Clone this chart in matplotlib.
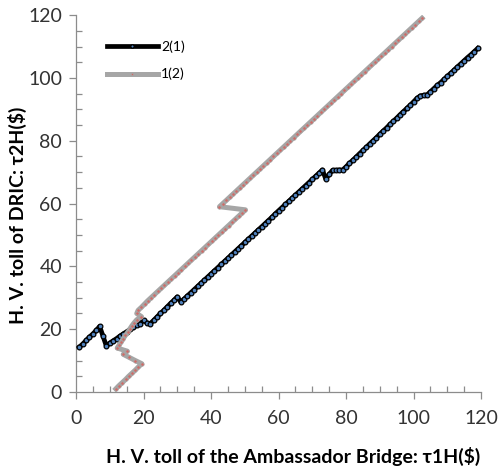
import numpy as np
import matplotlib
matplotlib.use('Agg')
import matplotlib.pyplot as plt
from matplotlib.ticker import MultipleLocator

plt.rcParams['font.family'] = ['Lato', 'DejaVu Sans']

# series 2(1): tau2H response to tau1H = 1..119
tau1_21 = list(range(1, 120))
tau2_21 = [14.3, 15.3, 16.4, 17.5, 18.5, 19.6, 20.9, 17.8, 14.6, 15.6,
           16.3, 17.0, 17.8, 18.5, 19.2, 19.9, 20.6, 21.2, 21.8, 22.8,
           22.0, 21.8, 22.8, 23.9, 25.0, 26.0, 27.1, 28.2, 29.2, 30.3,
           28.7, 29.6, 30.6, 31.6, 32.6, 33.6, 34.6, 35.6, 36.6, 37.6,
           38.6, 39.6, 40.6, 41.6, 42.6, 43.6, 44.6, 45.6, 46.6, 47.6,
           48.6, 49.6, 50.6, 51.6, 52.6, 53.6, 54.6, 55.6, 56.7, 57.7,
           58.7, 59.7, 60.7, 61.7, 62.7, 63.7, 64.7, 65.7, 66.7, 67.7,
           68.7, 69.7, 70.7, 67.8, 69.3, 70.6, 70.6, 70.7, 70.7, 71.7,
           72.8, 73.8, 74.8, 75.9, 76.9, 77.9, 79.0, 80.0, 81.0, 82.1,
           83.1, 84.1, 85.2, 86.2, 87.2, 88.3, 89.3, 90.3, 91.3, 92.4,
           93.5, 94.3, 94.5, 94.6, 95.6, 96.6, 97.6, 98.5, 99.5, 100.5,
           101.5, 102.5, 103.5, 104.5, 105.5, 106.5, 107.4, 108.4, 109.4]

# series 1(2): tau1H response to tau2H = 1..119
tau2_12 = list(range(1, 120))
tau1_12 = [11.8, 12.7, 13.7, 14.7, 15.6, 16.6, 17.6, 18.5, 19.5, 17.6,
           15.8, 14.0, 15.2, 12.2, 12.8, 13.4, 14.0, 14.6, 15.3, 15.9,
           16.5, 17.2, 18.0, 19.4, 18.0, 18.4, 19.4, 20.3, 21.2, 22.2,
           23.2, 24.2, 25.2, 26.2, 27.2, 28.2, 29.2, 30.2, 31.2, 32.2,
           33.2, 34.2, 35.2, 36.2, 37.2, 38.2, 39.2, 40.2, 41.2, 42.2,
           43.2, 44.2, 45.2, 46.2, 47.2, 48.2, 49.2, 50.2, 42.5, 43.5,
           44.5, 45.5, 46.5, 47.5, 48.5, 49.5, 50.5, 51.5, 52.5, 53.5,
           54.5, 55.5, 56.5, 57.5, 58.5, 59.5, 60.5, 61.5, 62.5, 63.5,
           64.5, 65.5, 66.5, 67.5, 68.5, 69.5, 70.5, 71.5, 72.5, 73.5,
           74.5, 75.5, 76.5, 77.5, 78.5, 79.5, 80.5, 81.5, 82.5, 83.5,
           84.5, 85.5, 86.5, 87.5, 88.5, 89.5, 90.5, 91.5, 92.5, 93.5,
           94.5, 95.5, 96.5, 97.5, 98.5, 99.5, 100.5, 101.5, 102.5]

fig = plt.figure(figsize=(4.98, 4.72), dpi=100)
ax = fig.add_axes([0.1526, 0.1695, 0.8134, 0.7985])

ax.plot(tau1_21, tau2_21, color='black', lw=3.4, marker='o', ms=3.4,
        mfc='#4f81bd', mec='black', mew=0.9, label='2(1)', zorder=3)
ax.plot(tau1_12, tau2_12, color='#a6a6a6', lw=3.6, marker='o', ms=2.4,
        mfc='#d06a66', mec='#a6a6a6', mew=0.5, label='1(2)', zorder=4)

ax.set_xlim(0, 120)
ax.set_ylim(0, 120)
ax.xaxis.set_major_locator(MultipleLocator(20))
ax.yaxis.set_major_locator(MultipleLocator(20))
ax.xaxis.set_minor_locator(MultipleLocator(5))
ax.yaxis.set_minor_locator(MultipleLocator(5))

for s in ['top', 'right']:
    ax.spines[s].set_visible(False)
for s in ['left', 'bottom']:
    ax.spines[s].set_color('#8c8c8c')
    ax.spines[s].set_linewidth(0.9)

ax.tick_params(which='major', direction='out', length=5, width=0.9,
               color='#8c8c8c', labelsize=14, labelcolor='#333333', pad=5)
ax.tick_params(which='minor', direction='in', length=4, width=0.9,
               color='#8c8c8c')
ax.tick_params(axis='x', which='major', pad=8)

ax.set_xlabel('H. V. toll of the Ambassador Bridge: τ1H($)', fontsize=14,
              fontweight='bold')
ax.xaxis.set_label_coords(0.535, -0.145)
ax.set_ylabel('H. V. toll of DRIC: τ2H($)', fontsize=14,
              fontweight='bold')
ax.yaxis.set_label_coords(-0.122, 0.47)

leg = ax.legend(loc='upper left', bbox_to_anchor=(0.045, 0.965), frameon=False,
                fontsize=10, handlelength=3.7, handletextpad=0.2,
                labelspacing=1.05, markerscale=0.7)
for h in leg.legend_handles:
    h.set_markevery([1])

fig.savefig('out.png', dpi=100)
